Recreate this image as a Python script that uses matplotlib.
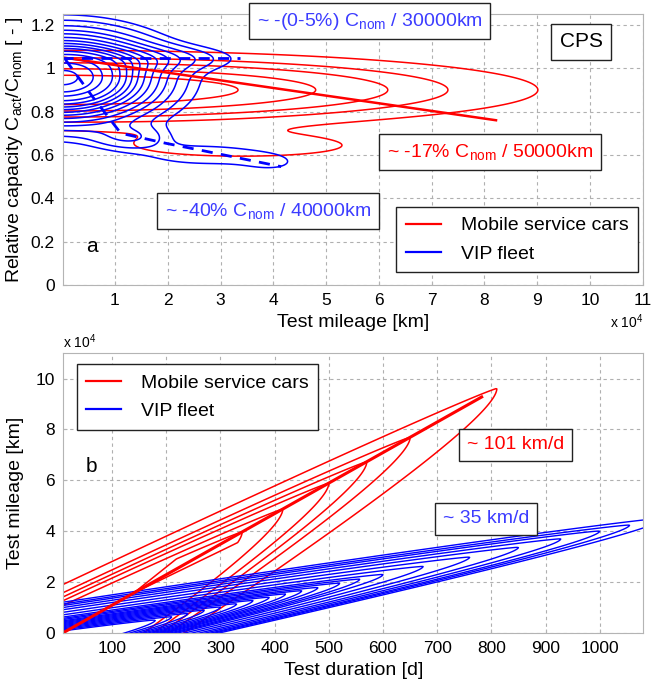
import numpy as np
import matplotlib
matplotlib.use('Agg')
import matplotlib.pyplot as plt
from matplotlib.lines import Line2D

plt.rcParams['font.family'] = ['Liberation Sans', 'DejaVu Sans']
plt.rcParams['mathtext.fontset'] = 'custom'
plt.rcParams['mathtext.rm'] = 'Liberation Sans'
plt.rcParams['mathtext.it'] = 'Liberation Sans:italic'
plt.rcParams['mathtext.default'] = 'regular'

RED = '#ff0000'
BLUE = '#0000ff'

# ---------------- panel a : capacity vs mileage (x in 1e4 km) ----------------
# density clusters: centre x, centre y, spread x, spread y, weight
red_a_cx = [0.0, 3.4]
red_a_cy = [0.90, 0.64]
red_a_sx = [4.2, 2.0]
red_a_sy = [0.085, 0.05]
red_a_w = [1.0, 0.15]
red_a_levels = [0.10, 0.22, 0.34, 0.52, 0.73]

blue_a_cx = [0.0, 1.8, 1.3, 2.7, 4.0]
blue_a_cy = [0.955, 1.045, 0.68, 0.60, 0.56]
blue_a_sx = [1.05, 1.0, 0.5, 0.9, 0.5]
blue_a_sy = [0.117, 0.04, 0.04, 0.04, 0.04]
blue_a_w = [1.0, 0.10, 0.10, 0.07, 0.04]
blue_a_levels = [0.045, 0.075, 0.12, 0.17, 0.22, 0.28, 0.34, 0.40, 0.46,
                 0.52, 0.59, 0.67, 0.775, 0.86, 0.965]

red_a_trend_x = [0.0, 8.22]
red_a_trend_y = [1.05, 0.76]
blue_a_flat_x = [0.0, 3.36]
blue_a_flat_y = [1.046, 1.046]
blue_a_fade_x = [0.06, 0.57, 1.11, 1.96, 2.66, 4.15]
blue_a_fade_y = [1.04, 0.87, 0.70, 0.654, 0.62, 0.546]

# ---------------- panel b : mileage (1e4 km) vs duration (d) ----------------
red_b_ridge_x = [10, 782]
red_b_ridge_y = [0.0, 9.28]
red_b_tips = [330, 405, 490, 560, 640, 800]      # day where each contour closes
red_b_spread = [370, 1.2, 80, 2.0]                # upper k, upper p, lower k, lower p
red_b_plateau = [345, 218, 200, 600]             # level, reach (d), slant up, slant down

blue_b_ridge_x = [0, 1055]
blue_b_ridge_y = [-0.27, 4.24]
blue_b_tips = [180, 210, 240, 270, 300, 330, 360, 390, 420, 450, 480, 520,
               557, 600, 674, 760, 850, 928, 1000, 1055, 1120]
blue_b_spread = [723, 1.2, 800, 2.0]


def cluster_field(X, Y, cx, cy, sx, sy, w):
    Z = np.zeros_like(X)
    for a, b, c, d, e in zip(cx, cy, sx, sy, w):
        Z += e * np.exp(-0.5 * ((X - a) / c) ** 2 - 0.5 * ((Y - b) / d) ** 2)
    return Z


def fan_field(D, M, rx, ry, spread):
    slope = (ry[1] - ry[0]) / (rx[1] - rx[0])
    u = D - rx[0]
    v = M - (ry[0] + slope * u)
    k_up, p_up, k_lo, p_lo = spread
    side = np.where(v > 0, k_up * np.abs(v) ** p_up, k_lo * np.abs(v) ** p_lo)
    return u + side, u, v


def style_axes(ax):
    ax.grid(True, linestyle=(0, (3, 3)), color='#b0b0b0', linewidth=0.8)
    ax.set_axisbelow(True)
    for s in ax.spines.values():
        s.set_color('#b4b4b4')
    ax.tick_params(direction='in', length=3, color='#b4b4b4', labelsize=12.5,
                   pad=6)


def box(ax, x, y, s, color, size=14):
    ax.text(x, y, s, transform=ax.transAxes, ha='center', va='center',
            color=color, fontsize=size, clip_on=False,
            bbox=dict(boxstyle='square,pad=0.4', fc='white', ec='#222222', lw=1.0))


fig = plt.figure(figsize=(6.51, 6.84), dpi=100)

# ---- panel a ----
ax1 = fig.add_axes([0.0972, 0.5833, 0.8901, 0.3962])
xa = np.linspace(-0.5, 11, 500)
ya = np.linspace(0, 1.3, 400)
XA, YA = np.meshgrid(xa, ya)
ax1.contour(XA, YA, cluster_field(XA, YA, red_a_cx, red_a_cy, red_a_sx, red_a_sy, red_a_w),
            levels=red_a_levels, colors=RED, linewidths=1.1)
ax1.contour(XA, YA, cluster_field(XA, YA, blue_a_cx, blue_a_cy, blue_a_sx, blue_a_sy, blue_a_w),
            levels=blue_a_levels, colors=BLUE, linewidths=1.1)
ax1.plot(red_a_trend_x, red_a_trend_y, color=RED, lw=1.8)
ax1.plot(blue_a_flat_x, blue_a_flat_y, color=BLUE, lw=2.0, dashes=(4, 3))
ax1.plot(blue_a_fade_x, blue_a_fade_y, color=BLUE, lw=2.0, dashes=(4, 3))

ax1.set_xlim(0.02, 11)
ax1.set_ylim(0, 1.25)
ax1.set_xticks(range(1, 12))
ax1.set_yticks([0, 0.2, 0.4, 0.6, 0.8, 1.0, 1.2])
ax1.set_yticklabels(['0', '0.2', '0.4', '0.6', '0.8', '1', '1.2'])
style_axes(ax1)
ax1.set_xlabel('Test mileage [km]', fontsize=14, labelpad=4)
ax1.set_ylabel('Relative capacity C$_{act}$/C$_{nom}$ [ - ]', fontsize=14, labelpad=4)

box(ax1, 0.529, 0.974, '~ -(0-5%) C$_{nom}$ / 30000km', '#3c3cff')
box(ax1, 0.894, 0.897, 'CPS', 'black', 15)
box(ax1, 0.736, 0.491, '~ -17% C$_{nom}$ / 50000km', RED)
box(ax1, 0.353, 0.273, '~ -40% C$_{nom}$ / 40000km', '#3c3cff')
ax1.text(0.049, 0.141, 'a', transform=ax1.transAxes, fontsize=15, ha='center', va='center')

handles = [Line2D([], [], color=RED, lw=1.6), Line2D([], [], color=BLUE, lw=1.6)]
names = ['Mobile service cars', 'VIP fleet']
leg = ax1.legend(handles, names, loc='upper left', bbox_to_anchor=(0.575, 0.288),
                 borderaxespad=0, fontsize=14, fancybox=False, framealpha=1,
                 edgecolor='#222222', handlelength=1.8, handletextpad=1.0,
                 labelspacing=0.55, borderpad=0.5)
leg.get_frame().set_linewidth(1.0)

fig.text(0.937, 1 - 322 / 684, 'x 10$^4$', fontsize=10, ha='left', va='center')

# ---- panel b ----
ax2 = fig.add_axes([0.0972, 0.075, 0.8908, 0.4085])
db = np.linspace(-20, 1100, 600)
mb = np.linspace(-0.5, 11.5, 600)
DB, MB = np.meshgrid(db, mb)

phi_r, u_r, v_r = fan_field(DB, MB, red_b_ridge_x, red_b_ridge_y, red_b_spread)
lvl, reach, slant_up, slant_lo = red_b_plateau
s = np.clip(u_r - np.where(v_r > 0, slant_up, slant_lo) * np.abs(v_r), 0, None)
phi_r = np.maximum(phi_r, lvl * np.exp(-(s / reach) ** 6))
ax2.contour(DB, MB, phi_r, levels=red_b_tips, colors=RED, linewidths=1.1)

phi_b, _, _ = fan_field(DB, MB, blue_b_ridge_x, blue_b_ridge_y, blue_b_spread)
ax2.contour(DB, MB, phi_b, levels=blue_b_tips, colors=BLUE, linewidths=1.0)

ax2.plot(red_b_ridge_x, red_b_ridge_y, color=RED, lw=2.2)

ax2.set_xlim(10, 1080)
ax2.set_ylim(0, 11)
ax2.set_xticks(range(100, 1001, 100))
ax2.set_yticks(range(0, 11, 2))
style_axes(ax2)
ax2.set_xlabel('Test duration [d]', fontsize=14, labelpad=4)
ax2.set_ylabel('Test mileage [km]', fontsize=14, labelpad=8)

box(ax2, 0.7805, 0.672, '~ 101 km/d', RED)
box(ax2, 0.7287, 0.407, '~ 35 km/d', '#3c3cff')
ax2.text(0.049, 0.594, 'b', transform=ax2.transAxes, fontsize=15, ha='center', va='center')

leg2 = ax2.legend(handles, names, loc='upper left', bbox_to_anchor=(0.023, 0.961),
                  borderaxespad=0, fontsize=14, fancybox=False, framealpha=1,
                  edgecolor='#222222', handlelength=1.8, handletextpad=1.0,
                  labelspacing=0.55, borderpad=0.5)
leg2.get_frame().set_linewidth(1.0)

fig.text(63 / 651, 1 - 342 / 684, 'x 10$^4$', fontsize=10, ha='left', va='center')

fig.savefig('out.png', dpi=100)
